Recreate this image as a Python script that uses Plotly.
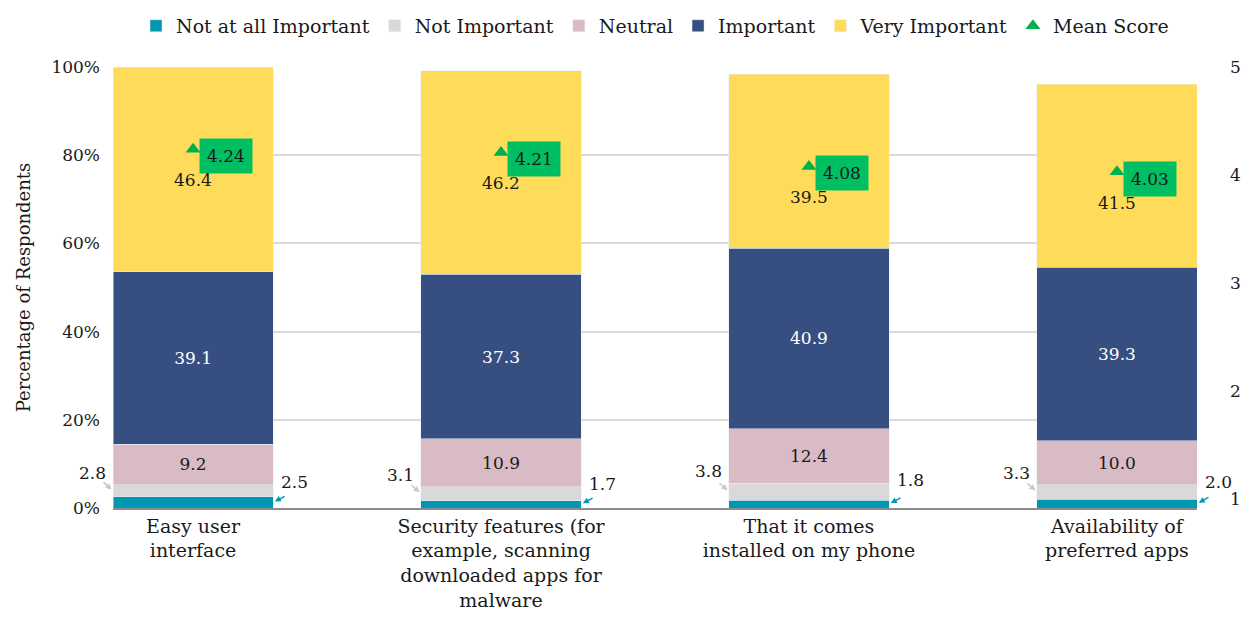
import plotly.graph_objects as go

# Survey items (x categories) and their wrapped tick labels
categories = [
    "Easy user interface",
    "Security features (for example, scanning downloaded apps for malware",
    "That it comes installed on my phone",
    "Availability of preferred apps",
]
category_labels = [
    "Easy user<br>interface",
    "Security features (for<br>example, scanning<br>downloaded apps for<br>malware",
    "That it comes<br>installed on my phone",
    "Availability of<br>preferred apps",
]

# Share of respondents (%) per rating
not_at_all = [2.5, 1.7, 1.8, 2.0]
not_important = [2.8, 3.1, 3.8, 3.3]
neutral = [9.2, 10.9, 12.4, 10.0]
important = [39.1, 37.3, 40.9, 39.3]
very_important = [46.4, 46.2, 39.5, 41.5]

# Mean score on a 1-5 scale
mean_score = [4.24, 4.21, 4.08, 4.03]

pct_ticks = [0, 20, 40, 60, 80, 100]
score_ticks = [1, 2, 3, 4, 5]

FONT = "DejaVu Serif"
INK = "#1a1a1a"
C_NAI = "#0097B2"
C_NI = "#D9D9D9"
C_NEU = "#D9BBC6"
C_IMP = "#364F80"
C_VI = "#FEDC5A"
C_MEAN = "#00B050"
C_BOX = "#00BF63"

xpos = list(range(len(categories)))
BAR_W = 0.52
HALF = BAR_W / 2
LBL = 17

fig = go.Figure()

fig.add_trace(go.Bar(x=xpos, y=not_at_all, name="Not at all Important",
                     marker_color=C_NAI, width=BAR_W, hoverinfo="y"))
fig.add_trace(go.Bar(x=xpos, y=not_important, name="Not Important",
                     marker_color=C_NI, width=BAR_W, hoverinfo="y"))
fig.add_trace(go.Bar(x=xpos, y=neutral, name="Neutral", marker_color=C_NEU,
                     width=BAR_W, texttemplate="%{y:.1f}", textposition="inside",
                     insidetextanchor="middle", textangle=0, constraintext="none",
                     textfont=dict(family=FONT, size=LBL, color=INK)))
fig.add_trace(go.Bar(x=xpos, y=important, name="Important", marker_color=C_IMP,
                     width=BAR_W, texttemplate="%{y:.1f}", textposition="inside",
                     insidetextanchor="middle", textangle=0, constraintext="none",
                     textfont=dict(family=FONT, size=LBL, color="white")))
fig.add_trace(go.Bar(x=xpos, y=very_important, name="Very Important",
                     marker_color=C_VI, width=BAR_W, hoverinfo="y"))
fig.add_trace(go.Scatter(x=xpos, y=mean_score, name="Mean Score", yaxis="y2",
                         mode="markers",
                         marker=dict(symbol="triangle-up", size=13, color=C_MEAN)))

annotations = []
for i in xpos:
    m = mean_score[i]
    # mean score value box beside the marker
    annotations.append(dict(x=i, y=m, xref="x", yref="y2", text=f"{m:.2f}",
                            showarrow=False, xanchor="left", xshift=6, yshift=-7,
                            bgcolor=C_BOX, borderpad=7,
                            font=dict(family=FONT, size=LBL, color=INK)))
    # "Very Important" share, placed under the mean marker
    annotations.append(dict(x=i, y=m, xref="x", yref="y2",
                            text=f"{very_important[i]:.1f}", showarrow=False,
                            yshift=-31,
                            font=dict(family=FONT, size=LBL, color=INK)))
    low = not_at_all[i] + not_important[i]
    # "Not at all Important" label on the right with a teal pointer
    annotations.append(dict(x=i + HALF, y=low, xref="x", yref="y",
                            text=f"{not_at_all[i]:.1f}", showarrow=False,
                            xanchor="left", xshift=6, yshift=3,
                            font=dict(family=FONT, size=LBL, color=INK)))
    annotations.append(dict(x=i + HALF, y=not_at_all[i] / 2, xref="x", yref="y",
                            text="", showarrow=True, arrowhead=2, arrowsize=0.8,
                            arrowwidth=1.5, arrowcolor=C_NAI, ax=13, ay=-7,
                            standoff=2))
    # "Not Important" label on the left with a grey pointer
    annotations.append(dict(x=i - HALF, y=low, xref="x", yref="y",
                            text=f"{not_important[i]:.1f}", showarrow=False,
                            xanchor="right", xshift=-5, yshift=12,
                            font=dict(family=FONT, size=LBL, color=INK)))
    annotations.append(dict(x=i - HALF, y=not_at_all[i] + not_important[i] / 2,
                            xref="x", yref="y", text="", showarrow=True,
                            arrowhead=2, arrowsize=0.8, arrowwidth=1.5,
                            arrowcolor="#C8C8C8", ax=-11, ay=-10, standoff=2))

fig.update_layout(
    barmode="stack",
    width=1255, height=617,
    margin=dict(l=113, r=58, t=67, b=109),
    paper_bgcolor="white", plot_bgcolor="white",
    font=dict(family=FONT, size=LBL, color=INK),
    legend=dict(orientation="h", x=0.5, xanchor="center", y=0.958,
                yref="container", yanchor="middle",
                font=dict(family=FONT, size=19, color=INK),
                traceorder="normal"),
    xaxis=dict(range=[-HALF, len(categories) - 1 + HALF], tickvals=xpos,
               ticktext=category_labels, ticks="", showline=True,
               linecolor="#8C8C8C", linewidth=1.5, showgrid=False,
               zeroline=False, automargin=False,
               tickfont=dict(family=FONT, size=19)),
    yaxis=dict(range=[0, 100], tickvals=pct_ticks,
               ticktext=[f"{t}%" for t in pct_ticks], ticks="",
               ticklabelstandoff=12, showgrid=True, gridcolor="#D9D9D9",
               gridwidth=1.5, zeroline=False,
               title=dict(text="Percentage of Respondents",
                          font=dict(family=FONT, size=18), standoff=16),
               tickfont=dict(family=FONT, size=17)),
    yaxis2=dict(overlaying="y", side="right", range=[0.92, 5.0],
                tickvals=score_ticks, ticks="", showgrid=False, zeroline=False,
                ticklabelstandoff=32, tickfont=dict(family=FONT, size=17)),
    annotations=annotations,
)

fig.write_html("out.html")
